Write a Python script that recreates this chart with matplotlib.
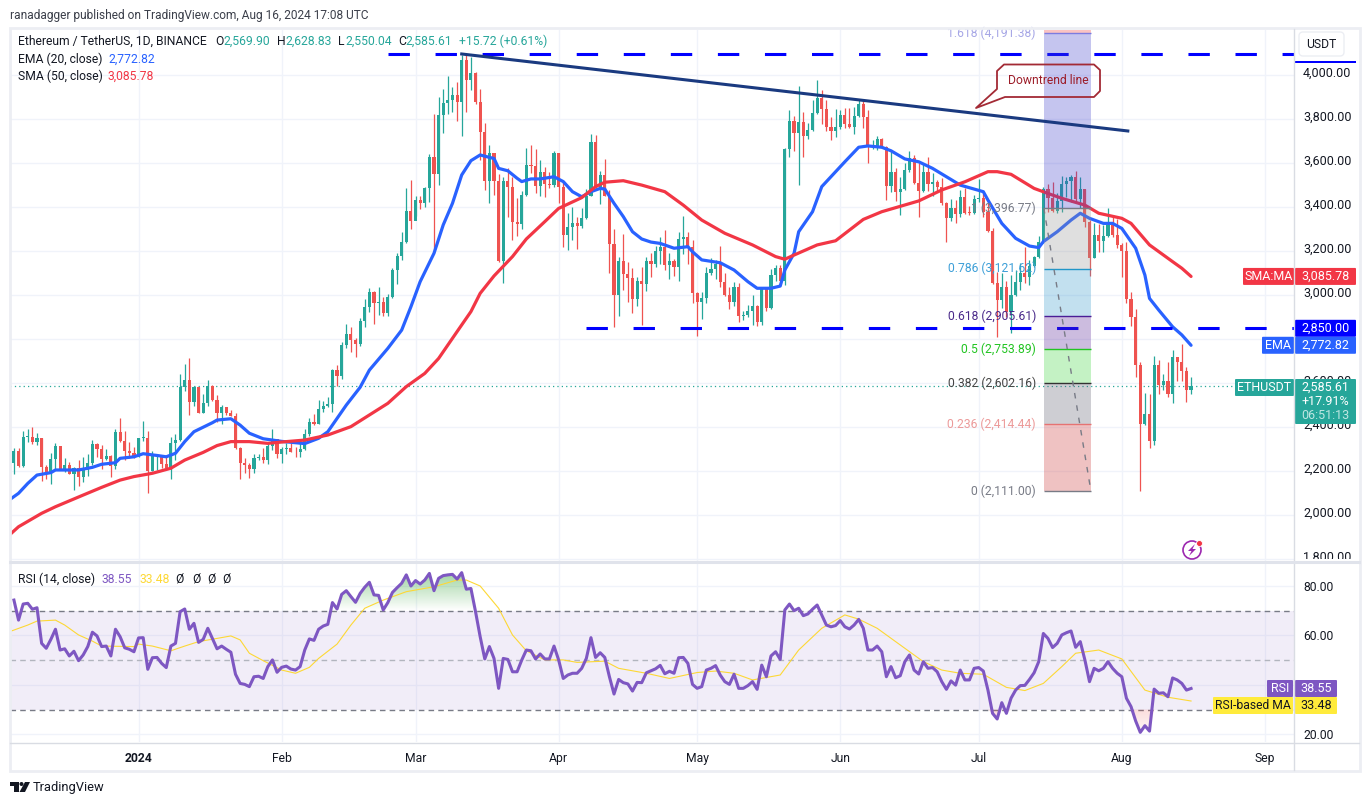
import numpy as np
import matplotlib
matplotlib.use('Agg')
from matplotlib import pyplot as plt
from matplotlib.patches import Rectangle, Polygon, Circle, FancyBboxPatch
from matplotlib.transforms import ScaledTranslation

plt.rcParams['font.family'] = ['Roboto', 'DejaVu Sans']

# day numbers count from 1 Jan 2024
days = np.arange(-27, 229)
first_open = 2239
closes = [2292, 2226, 2356, 2357, 2332, 2351, 2221, 2195, 2256, 2315,
          2209, 2227, 2189, 2215, 2173, 2206, 2238, 2324, 2303, 2256,
          2268, 2226, 2379, 2338, 2292, 2282, 2267, 2351, 2352, 2201,
          2270, 2272, 2233, 2213, 2329, 2342, 2582, 2615, 2517, 2582,
          2466, 2509, 2586, 2524, 2466, 2491, 2466, 2453, 2304, 2239,
          2229, 2210, 2262, 2264, 2251, 2315, 2345, 2279, 2301, 2304,
          2289, 2286, 2300, 2370, 2424, 2415, 2482, 2497, 2504, 2660,
          2633, 2774, 2824, 2797, 2779, 2883, 2945, 3013, 2966, 2969,
          2921, 2994, 3115, 3179, 3242, 3383, 3339, 3433, 3421, 3489,
          3627, 3553, 3820, 3873, 3888, 3910, 3880, 4070, 3979, 4009,
          3880, 3744, 3520, 3645, 3520, 3156, 3520, 3494, 3335, 3324,
          3456, 3592, 3587, 3498, 3562, 3506, 3503, 3648, 3494, 3274,
          3309, 3327, 3315, 3350, 3453, 3695, 3494, 3547, 3453, 3233,
          3001, 3156, 3097, 3079, 2983, 3065, 3053, 3155, 3144, 3201,
          3221, 3138, 3156, 3129, 3254, 3264, 3218, 3012, 2971, 2986,
          3100, 3120, 3141, 3062, 3001, 2971, 3036, 2908, 2911, 2930,
          2951, 2880, 3036, 2944, 3091, 3122, 3067, 3664, 3792, 3739,
          3789, 3724, 3751, 3827, 3898, 3847, 3767, 3748, 3763, 3819,
          3779, 3763, 3815, 3870, 3812, 3673, 3679, 3709, 3672, 3497,
          3560, 3471, 3482, 3570, 3626, 3509, 3476, 3559, 3506, 3516,
          3491, 3418, 3350, 3395, 3368, 3448, 3376, 3373, 3436, 3441,
          3380, 3294, 3054, 2979, 3039, 2926, 3002, 3062, 3100, 3082,
          3133, 3176, 3244, 3482, 3444, 3385, 3430, 3506, 3519, 3539,
          3436, 3483, 3335, 3171, 3274, 3247, 3270, 3320, 3274, 3229,
          3203, 2983, 2900, 2683, 2415, 2459, 2339, 2683, 2592, 2611,
          2551, 2721, 2698, 2657, 2569.90, 2585.61]
highs = [2304, 2307, 2383, 2392, 2401, 2373, 2351, 2227, 2283, 2327,
         2315, 2260, 2244, 2221, 2250, 2265, 2279, 2342, 2329, 2320,
         2301, 2273, 2392, 2442, 2383, 2332, 2312, 2352, 2429, 2383,
         2291, 2274, 2271, 2266, 2357, 2370, 2642, 2688, 2713, 2588,
         2582, 2550, 2615, 2591, 2545, 2501, 2494, 2477, 2463, 2312,
         2260, 2239, 2279, 2279, 2304, 2327, 2391, 2346, 2312, 2327,
         2327, 2312, 2335, 2391, 2441, 2459, 2524, 2521, 2536, 2663,
         2683, 2789, 2869, 2854, 2804, 2898, 2983, 3032, 3021, 3036,
         2991, 3006, 3126, 3194, 3289, 3486, 3524, 3451, 3451, 3494,
         3642, 3824, 3900, 3936, 3997, 3945, 3970, 4091, 4097, 4082,
         4014, 3936, 3782, 3683, 3648, 3550, 3536, 3577, 3539, 3441,
         3476, 3671, 3683, 3664, 3615, 3585, 3562, 3656, 3648, 3517,
         3373, 3403, 3357, 3398, 3481, 3733, 3729, 3565, 3620, 3480,
         3300, 3173, 3277, 3153, 3123, 3085, 3127, 3176, 3191, 3224,
         3267, 3297, 3191, 3165, 3286, 3361, 3288, 3251, 3017, 3017,
         3127, 3168, 3160, 3224, 3100, 3039, 3062, 3058, 2930, 2956,
         3000, 2955, 3039, 3032, 3118, 3138, 3138, 3668, 3842, 3815,
         3951, 3835, 3782, 3888, 3979, 3933, 3888, 3812, 3845, 3842,
         3850, 3850, 3857, 3892, 3885, 3842, 3706, 3724, 3713, 3679,
         3660, 3577, 3539, 3600, 3656, 3638, 3600, 3595, 3627, 3554,
         3524, 3532, 3425, 3436, 3433, 3478, 3486, 3408, 3456, 3527,
         3463, 3420, 3304, 3107, 3100, 3065, 3092, 3115, 3145, 3221,
         3160, 3179, 3270, 3494, 3506, 3517, 3463, 3542, 3536, 3547,
         3565, 3539, 3483, 3342, 3327, 3323, 3320, 3395, 3365, 3345,
         3236, 3244, 3017, 2938, 2698, 2554, 2550, 2724, 2706, 2642,
         2698, 2751, 2721, 2779, 2676, 2628.83]
lows = [2188, 2221, 2220, 2333, 2324, 2320, 2157, 2165, 2142, 2207,
        2206, 2198, 2188, 2115, 2133, 2151, 2179, 2229, 2265, 2210,
        2250, 2176, 2210, 2332, 2251, 2259, 2259, 2266, 2339, 2100,
        2201, 2206, 2213, 2209, 2165, 2251, 2338, 2567, 2456, 2497,
        2466, 2466, 2497, 2521, 2426, 2415, 2456, 2450, 2301, 2165,
        2194, 2171, 2194, 2252, 2238, 2233, 2297, 2260, 2239, 2279,
        2286, 2266, 2266, 2297, 2360, 2412, 2415, 2471, 2491, 2471,
        2588, 2621, 2762, 2741, 2721, 2771, 2857, 2926, 2870, 2910,
        2906, 2906, 2986, 3050, 3160, 3236, 3301, 3361, 3392, 3402,
        3426, 3198, 3501, 3739, 3824, 3835, 3794, 3726, 3835, 3933,
        3870, 3615, 3479, 3418, 3456, 3153, 3058, 3357, 3251, 3270,
        3301, 3452, 3555, 3464, 3452, 3448, 3486, 3494, 3418, 3218,
        3206, 3251, 3210, 3304, 3347, 3450, 3490, 3415, 3451, 3103,
        2855, 2906, 3024, 2971, 2918, 2953, 2865, 3021, 3085, 3130,
        3142, 3115, 3074, 3088, 3067, 3190, 3142, 2964, 2817, 2892,
        2964, 3092, 3073, 3039, 2998, 2938, 2953, 2880, 2888, 2903,
        2865, 2862, 2865, 2930, 2936, 3067, 3063, 3047, 3630, 3657,
        3501, 3630, 3709, 3748, 3824, 3780, 3748, 3706, 3721, 3756,
        3759, 3759, 3733, 3809, 3759, 3603, 3663, 3660, 3668, 3433,
        3471, 3429, 3365, 3480, 3562, 3506, 3357, 3471, 3476, 3451,
        3471, 3410, 3244, 3339, 3327, 3357, 3370, 3365, 3370, 3426,
        3357, 3289, 3051, 2812, 2941, 2903, 2827, 2998, 3024, 3054,
        3047, 3130, 3168, 3239, 3380, 3380, 3373, 3380, 3448, 3426,
        3426, 3395, 3312, 3089, 3171, 3198, 3198, 3264, 3266, 3214,
        3082, 2967, 2860, 2630, 2112, 2410, 2307, 2320, 2550, 2570,
        2539, 2512, 2612, 2612, 2517, 2550.04]

ema_days = [-28, -26, -24, -22, -19, -18, -13, -10, -8, -5, -4, -1, 1, 4, 6, 8, 10, 12,
            16, 17, 20, 22, 24, 27, 31, 36, 39, 41, 45, 48, 50, 54, 57, 59, 61, 64, 66,
            68, 70, 72, 74, 76, 77, 78, 80, 82, 83, 85, 87, 90, 92, 94, 96, 98, 100,
            101, 103, 105, 107, 109, 111, 113, 116, 119, 120, 122, 126, 129, 132, 134,
            137, 139, 140, 142, 143, 146, 148, 153, 156, 158, 161, 163, 166, 169, 172,
            175, 178, 183, 184, 187, 190, 193, 195, 196, 199, 202, 204, 206, 209, 211,
            213, 216, 218, 219, 221, 224, 226, 228]
ema_values = [2070, 2100, 2145, 2183, 2194, 2206, 2206, 2218, 2232, 2239, 2259, 2266, 2280,
              2272, 2266, 2282, 2335, 2380, 2421, 2433, 2439, 2410, 2373, 2348, 2336, 2326,
              2350, 2380, 2501, 2582, 2660, 2759, 2842, 2948, 3062, 3191, 3320, 3418, 3547,
              3612, 3638, 3627, 3622, 3577, 3566, 3532, 3517, 3529, 3529, 3539, 3517, 3471,
              3448, 3471, 3486, 3483, 3418, 3358, 3289, 3256, 3242, 3236, 3214, 3221, 3198,
              3161, 3148, 3115, 3062, 3032, 3032, 3042, 3115, 3191, 3289, 3380, 3494, 3607,
              3673, 3679, 3673, 3657, 3620, 3607, 3577, 3539, 3501, 3471, 3433, 3327, 3259,
              3224, 3217, 3244, 3289, 3342, 3373, 3350, 3327, 3327, 3304, 3214, 3092, 2986,
              2933, 2857, 2820, 2772.82]
sma_days = [-28, -26, -21, -18, -12, -8, -4, -1, 3, 7, 10, 14, 17, 20, 24, 28, 32, 36, 41,
            46, 50, 54, 58, 62, 65, 69, 72, 74, 77, 81, 84, 88, 91, 96, 99, 101, 105, 109,
            114, 118, 122, 127, 133, 138, 140, 142, 147, 151, 157, 161, 169, 174, 179, 184,
            186, 189, 194, 197, 200, 205, 208, 213, 215, 219, 224, 226, 228]
sma_values = [1910, 1948, 2009, 2039, 2092, 2127, 2160, 2176, 2191, 2214, 2251, 2286, 2317,
              2335, 2335, 2327, 2335, 2342, 2365, 2403, 2456, 2509, 2585, 2645, 2713, 2835,
              2926, 3009, 3088, 3176, 3256, 3335, 3395, 3444, 3494, 3514, 3521, 3501, 3471,
              3410, 3342, 3282, 3229, 3176, 3164, 3183, 3229, 3248, 3345, 3380, 3429, 3479,
              3516, 3562, 3562, 3550, 3486, 3463, 3441, 3410, 3373, 3350, 3327, 3229, 3153,
              3123, 3085.78]

rsi = [74.3, 66.2, 72.7, 73.0, 70.6, 71.2, 56.8, 54.8, 58.4, 62.5,
       54.1, 54.6, 51.7, 53.6, 49.8, 52.1, 55.5, 61.3, 59.8, 55.5,
       55.7, 51.7, 62.5, 59.5, 55.0, 54.4, 53.4, 59.0, 59.1, 46.3,
       51.0, 51.1, 48.7, 47.0, 55.7, 56.8, 69.6, 70.7, 62.5, 64.9,
       57.2, 58.4, 62.9, 58.8, 54.6, 55.7, 54.4, 53.2, 44.3, 40.6,
       40.2, 39.3, 43.3, 43.5, 42.6, 47.4, 50.1, 45.1, 47.1, 47.6,
       46.4, 46.0, 47.4, 54.1, 58.6, 58.0, 62.5, 63.8, 64.5, 73.3,
       70.7, 76.6, 78.1, 75.7, 73.4, 77.0, 79.5, 81.5, 76.4, 76.2,
       70.3, 73.3, 77.4, 79.3, 81.1, 84.5, 80.0, 82.2, 80.8, 82.4,
       85.1, 78.1, 83.1, 84.2, 84.5, 84.7, 82.8, 85.4, 78.7, 79.0,
       69.6, 59.5, 50.5, 55.5, 50.7, 38.6, 50.7, 50.3, 45.3, 45.3,
       50.0, 54.1, 53.8, 50.5, 52.5, 50.5, 50.5, 55.7, 50.1, 42.6,
       44.0, 44.7, 44.7, 46.7, 50.7, 59.1, 51.1, 53.0, 51.1, 43.3,
       36.3, 42.2, 40.9, 40.4, 37.5, 41.0, 40.9, 44.9, 45.7, 46.5,
       47.9, 44.5, 45.5, 44.7, 51.0, 51.1, 48.7, 40.2, 38.6, 39.3,
       46.0, 46.7, 47.8, 44.0, 41.3, 40.2, 44.3, 38.6, 38.6, 39.7,
       41.3, 38.2, 48.0, 43.3, 51.7, 53.4, 50.3, 70.3, 72.7, 70.0,
       71.0, 68.0, 68.7, 70.6, 72.3, 68.3, 64.2, 63.5, 64.0, 66.0,
       63.5, 62.6, 64.2, 66.5, 62.9, 54.1, 54.1, 55.7, 53.4, 43.3,
       47.4, 42.9, 43.7, 49.4, 52.1, 46.0, 44.4, 49.4, 46.7, 47.0,
       45.3, 41.3, 38.2, 41.6, 39.9, 46.0, 42.0, 42.0, 46.7, 47.0,
       45.6, 37.9, 28.5, 26.2, 32.8, 28.5, 34.6, 37.9, 39.7, 39.8,
       42.2, 44.9, 49.4, 60.8, 58.8, 55.1, 56.8, 60.2, 61.1, 61.8,
       55.2, 57.5, 50.1, 41.3, 46.7, 45.7, 46.7, 49.4, 46.7, 44.7,
       43.3, 34.6, 31.2, 25.4, 20.8, 23.5, 21.3, 38.3, 36.6, 36.8,
       35.2, 42.8, 42.0, 40.6, 37.9, 38.55]
rsi_ma_days = [-28, -24, -22, -18, -16, -13, -10, -8, -1, 0, 3, 7, 10, 13, 17, 20, 22, 24, 27,
               31, 34, 37, 39, 43, 46, 49, 53, 58, 64, 69, 71, 74, 78, 81, 84, 88, 92, 95,
               101, 104, 110, 115, 121, 125, 129, 133, 139, 143, 148, 153, 156, 160, 166,
               170, 174, 178, 183, 188, 192, 196, 200, 203, 208, 213, 218, 223, 228]
rsi_ma_values = [61.5, 64.2, 65.8, 66.2, 64.2, 60.2, 57.7, 55.7, 55.5, 56.5, 55.7, 53.8, 55.7,
                 57.5, 58.8, 59.8, 58.2, 52.8, 49.8, 46.0, 44.7, 47.1, 50.7, 56.5, 64.2,
                 71.0, 74.3, 77.7, 79.7, 82.4, 82.4, 80.0, 71.0, 60.2, 53.8, 50.1, 50.1,
                 49.1, 49.6, 46.7, 44.7, 42.6, 45.0, 45.6, 44.7, 42.0, 44.0, 54.1, 62.9,
                 68.3, 66.6, 62.9, 54.8, 49.4, 46.0, 44.7, 44.3, 39.0, 37.7, 40.6, 47.4,
                 52.8, 54.1, 50.5, 37.9, 35.0, 33.48]

fib_ratios = ['1.618', '1', '0.786', '0.618', '0.5', '0.382', '0.236', '0']
fib_prices = [4191.38, 3396.77, 3121.62, 2905.61, 2753.89, 2602.16, 2414.44, 2111.00]
fib_lines = ['#7c7ce0', '#787b86', '#2196c8', '#4a1d96', '#22c422', '#333333', '#e57373', '#787b86']
fib_text = ['#a6a6e6', '#787b86', '#3d9fd8', '#4a2a8a', '#22c422', '#444444', '#ec9a9a', '#787b86']
fib_fills = ['#3f3fcc', '#969696', '#3599cd', '#582398', '#3cd43c', '#5f5f6e', '#cd3737']

month_days = [31, 60, 91, 121, 152, 182, 213, 244, 0]
month_names = ['Feb', 'Mar', 'Apr', 'May', 'Jun', 'Jul', 'Aug', 'Sep', '2024']
price_ticks = list(range(1800, 4001, 200))
rsi_ticks = [20, 40, 60, 80]

GREEN = '#26a69a'
RED = '#ef5350'
W, H = 1371, 805


def add_pane(x0, x1, y0, y1):
    return fig.add_axes([x0 / W, 1 - y1 / H, (x1 - x0) / W, (y1 - y0) / H])


def style_pane(ax):
    for side in ax.spines.values():
        side.set_visible(False)
    ax.yaxis.tick_right()
    ax.tick_params(axis='y', length=0, pad=6.5, labelsize=8.7, labelcolor='#131722')
    ax.set_xlim(-27.85, 250.3)
    ax.set_xticks(month_days)
    ax.grid(True, color='#f0f3fa', lw=1)
    ax.set_axisbelow(True)


fig = plt.figure(figsize=(W / 100, H / 100), dpi=100, facecolor='white')

# price pane
ax = add_pane(10, 1294, 30, 561)
style_pane(ax)
ax.set_ylim(1792.3, 4206)
ax.set_yticks(price_ticks)
# the 2,800 label sits fully behind the 2,850 and EMA tags in the scale
ax.set_yticklabels(['' if t == 2800 else f'{t:,.2f}' for t in price_ticks])
ax.tick_params(axis='y', labelsize=9)
ax.tick_params(axis='x', length=0, labelbottom=False)
lift = ScaledTranslation(0, 2.2 / 72, fig.dpi_scale_trans)
for label in ax.get_yticklabels():
    label.set_transform(label.get_transform() + lift)

closes = np.array(closes, dtype=float)
opens = np.r_[first_open, closes[:-1]]
highs = np.array(highs, dtype=float)
lows = np.array(lows, dtype=float)
colors = [GREEN if c >= o else RED for o, c in zip(opens, closes)]
ax.vlines(days, lows, highs, colors=colors, lw=0.9, zorder=3)
ax.bar(days, np.maximum(np.abs(closes - opens), 4), bottom=np.minimum(opens, closes),
       width=0.68, color=colors, zorder=4)

ax.plot(ema_days, ema_values, color='#2962ff', lw=2.3, zorder=5, solid_capstyle='round')
ax.plot(sma_days, sma_values, color='#f23645', lw=2.3, zorder=5, solid_capstyle='round')
ax.axhline(closes[-1], color=GREEN, lw=0.9, ls=(0, (1, 2.5)), zorder=2)

# fib retracement over the candles
fib_x0, fib_x1 = 196.1, 206.3
ax.fill_between([fib_x0, fib_x1], fib_prices[0], 4206, color='#ef3b3b', alpha=0.3, lw=0, zorder=6)
for top, bottom, c in zip(fib_prices[:-1], fib_prices[1:], fib_fills):
    ax.fill_between([fib_x0, fib_x1], bottom, top, color=c, alpha=0.3, lw=0, zorder=6)
ax.hlines(fib_prices, fib_x0, fib_x1, colors=fib_lines, lw=1, zorder=7)
for ratio, price, c in zip(fib_ratios, fib_prices, fib_text):
    ax.text(194.4, price, f'{ratio} ({price:,.2f})', color=c, fontsize=8.7, ha='right',
            va='center', zorder=8)
ax.plot([fib_x0, fib_x1], [fib_prices[1], fib_prices[-1]], color='#787b86', lw=1,
        ls=(0, (4, 5)), zorder=7)

# support and resistance drawn by the author
dash = (0, (7, 8.4))
ax.plot([54, 250.3], [4097, 4097], color='#0000ff', lw=2.2, ls=dash, zorder=5,
        dash_capstyle='butt')
ax.plot([97, 250.3], [2850, 2850], color='#0000ff', lw=2.2, ls=dash, zorder=5,
        dash_capstyle='butt')
ax.plot([70, 214.3], [4097, 3747], color='#1a3a80', lw=2.2, zorder=6)

# rsi pane
ax2 = add_pane(10, 1294, 563, 742)
style_pane(ax2)
ax2.set_ylim(16.9, 89.3)
ax2.set_yticks(rsi_ticks)
ax2.set_yticklabels([f'{t:.2f}' for t in rsi_ticks])
ax2.set_xticklabels(month_names)
ax2.tick_params(axis='x', length=0, pad=7, labelsize=8.7, labelcolor='#131722')
ax2.get_xticklabels()[-1].set_fontweight('bold')
ax2.axhspan(30, 70, color='#7e57c2', alpha=0.1, lw=0, zorder=1)
for level, c in zip([70, 50, 30], ['#787b86', '#b2b5be', '#787b86']):
    ax2.axhline(level, color=c, lw=1, ls=(0, (4, 3)), zorder=2)

rsi = np.array(rsi)
green_fade = np.zeros((64, 1, 4))
green_fade[:, 0, :3] = matplotlib.colors.to_rgb('#4caf50')
green_fade[:, 0, 3] = np.linspace(0.55, 0, 64)
red_fade = np.zeros((64, 1, 4))
red_fade[:, 0, :3] = matplotlib.colors.to_rgb('#ef5350')
red_fade[:, 0, 3] = np.linspace(0.04, 0.2, 64)
for fade, level, edge, clipped in [(green_fade, 70, 86, np.maximum(rsi, 70)),
                                   (red_fade, 30, 20, np.minimum(rsi, 30))]:
    shape = Polygon(list(zip(days, clipped)) + [(days[-1], level), (days[0], level)],
                    transform=ax2.transData, fc='none', ec='none')
    ax2.add_patch(shape)
    img = ax2.imshow(fade, extent=(days[0], days[-1], min(level, edge), max(level, edge)),
                     aspect='auto', zorder=3, origin='upper' if edge > level else 'lower')
    img.set_clip_path(shape)
ax2.set_xlim(-27.85, 250.3)
ax2.set_ylim(16.9, 89.3)
ax2.plot(days, rsi, color='#7e57c2', lw=2.2, zorder=5)
ax2.plot(rsi_ma_days, rsi_ma_values, color='#fdd835', lw=0.8, zorder=4)

# everything else sits on a pixel overlay
ov = fig.add_axes([0, 0, 1, 1], facecolor='none')
ov.set_xlim(0, W)
ov.set_ylim(H, 0)
ov.axis('off')


def py(price):
    return 515.3 - (price - 2000) * 0.22


def ry(value):
    return 586 + (80 - value) * 2.47


def box(x0, x1, yc, fill, label=None, fg='white', h=17, size=9, cx=None):
    ov.add_patch(FancyBboxPatch((x0 + 1, yc - h / 2 + 1), x1 - x0 - 2, h - 2,
                                boxstyle='round,pad=1', fc=fill, ec=fill, lw=0))
    if label:
        ov.text((x0 + x1) / 2 if cx is None else cx, yc, label, color=fg, fontsize=size,
                ha='center', va='center')


# frame and pane dividers
ov.add_patch(Rectangle((9.5, 28), 1350.5, 742.5, fc='none', ec='#eceef3', lw=2))
ov.plot([1294, 1294], [29, 770], color='#d9dce3', lw=1)
ov.plot([10, 1359], [561.5, 561.5], color='#e0e3eb', lw=2.2)
ov.add_patch(Rectangle((1295, 559), 62, 3, fc='white', ec='none'))
ov.plot([10, 1359], [742.5, 742.5], color='#d9dce3', lw=1)

ov.text(10, 15, 'ranadagger published on TradingView.com, Aug 16, 2024 17:08 UTC',
        color='#3b3f4a', fontsize=8.6, va='center')

# legend rows
ov.text(18, 41.5, 'Ethereum / TetherUS, 1D, BINANCE', color='#131722', fontsize=8.7, va='center')
for x, txt, c in [(215, 'O', '#131722'), (223, '2,569.90', GREEN), (277, 'H', '#131722'),
                  (285, '2,628.83', GREEN), (338, 'L', '#131722'), (345, '2,550.04', GREEN),
                  (398, 'C', '#131722'), (405, '2,585.61', GREEN), (459, '+15.72 (+0.61%)', GREEN)]:
    ov.text(x, 41.5, txt, color=c, fontsize=8.7, va='center')
ov.text(18, 59, 'EMA (20, close)', color='#131722', fontsize=8.7, va='center')
ov.text(108, 59, '2,772.82', color='#2962ff', fontsize=8.7, va='center')
ov.text(18, 76, 'SMA (50, close)', color='#131722', fontsize=8.7, va='center')
ov.text(107, 76, '3,085.78', color='#f23645', fontsize=8.7, va='center')
ov.text(18, 579, 'RSI (14, close)', color='#131722', fontsize=8.7, va='center')
ov.text(102, 579, '38.55', color='#7e57c2', fontsize=8.7, va='center')
ov.text(139, 579, '33.48', color='#fdd835', fontsize=8.7, va='center')
for x in [175, 192, 207, 222]:
    ov.text(x, 579, 'Ø', color='#131722', fontsize=8.7, va='center')

# callout
callout = Polygon([(1004, 64.5), (1094, 64.5), (1100, 70), (1100, 91), (1094, 97), (1005, 97),
                   (976, 108), (997, 89), (997, 71)], closed=True, fc='none',
                  ec='#a32a35', lw=1.3, joinstyle='round')
ov.add_patch(callout)
ov.text(1048.5, 80, 'Downtrend line', color='#9c1c28', fontsize=8.7, ha='center', va='center')

# price scale tags
box(1243, 1294, py(3085.78), '#f23645', 'SMA:MA')
box(1295, 1356, py(3085.78), '#f23645', '3,085.78')
box(1295, 1356, py(2850), '#0000ff', '2,850.00')
box(1262, 1294, py(2772.82), '#2962ff', 'EMA')
box(1295, 1356, py(2772.82), '#2962ff', '2,772.82')
box(1235, 1294, 387.5, GREEN, 'ETHUSDT')
box(1295, 1356, 401.5, GREEN, h=45)
ov.text(1325.5, 387.5, '2,585.61', color='white', fontsize=9, ha='center', va='center')
ov.text(1325.5, 401.5, '+17.91%', color='white', fontsize=9, ha='center', va='center')
ov.text(1325.5, 415.5, '06:51:13', color='#bfe6e2', fontsize=9, ha='center', va='center')
box(1267, 1293, 688.5, '#7e57c2', 'RSI')
box(1295, 1337, 688.5, '#7e57c2', '38.55')
box(1213, 1293, 705.5, '#ffeb3b', 'RSI-based MA', fg='#131722', size=8.7)
box(1295, 1337, 705.5, '#ffeb3b', '33.48', fg='#131722')

# currency button
ov.add_patch(Rectangle((1295, 61), 61, 2, fc='#0000ff', ec='none', zorder=1))
ov.add_patch(FancyBboxPatch((1301, 34), 41, 20, boxstyle='round,pad=2,rounding_size=4',
                            fc='white', ec='#eceef3', lw=1))
ov.text(1321, 44, 'USDT', color='#131722', fontsize=8.7, ha='center', va='center')

# events icon
ov.add_patch(Circle((1192, 550), 9, fc='white', ec='#9c27b0', lw=1.2))
ov.add_patch(Polygon([(1195, 544), (1188, 551), (1191.5, 551), (1189, 556), (1196, 549),
                      (1192.5, 549)], fc='#9c27b0', ec='none'))
ov.add_patch(Circle((1199.5, 543.5), 3, fc='#f23645', ec='white', lw=0.6))

# logo
ov.add_patch(Polygon([(10, 782), (19, 782), (19, 792), (14, 792), (14, 786), (10, 786)],
                     fc='#131722', ec='none'))
ov.add_patch(Circle((21.5, 784), 2, fc='#131722', ec='none'))
ov.add_patch(Polygon([(25, 782), (30, 782), (25, 792), (19.5, 792)], fc='#131722', ec='none'))
ov.text(33, 787.5, 'TradingView', color='#131722', fontsize=9.3, va='center')

fig.savefig('out.png', dpi=100)
